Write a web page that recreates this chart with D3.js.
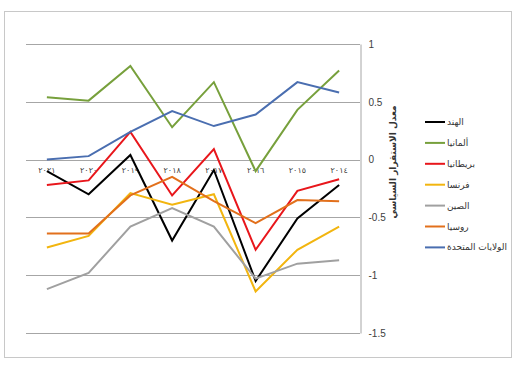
<!DOCTYPE html>
<html><head><meta charset="utf-8">
<script src="https://cdn.jsdelivr.net/npm/d3@7"></script>
<style>body{margin:0;background:#fff}svg{display:block}</style>
</head><body>
<script>
const years = ["٢٠١٤","٢٠١٥","٢٠١٦","٢٠١٧","٢٠١٨","٢٠١٩","٢٠٢٠","٢٠٢١"];
const india   = [-0.22,-0.51,-1.05,-0.09,-0.70,0.04,-0.30,-0.10];
const germany = [0.77,0.43,-0.10,0.67,0.28,0.81,0.51,0.54];
const britain = [-0.17,-0.27,-0.78,0.09,-0.31,0.24,-0.18,-0.22];
const france  = [-0.58,-0.78,-1.14,-0.30,-0.39,-0.29,-0.66,-0.76];
const china   = [-0.87,-0.90,-1.03,-0.58,-0.42,-0.58,-0.98,-1.12];
const russia  = [-0.36,-0.35,-0.55,-0.36,-0.15,-0.31,-0.64,-0.64];
const usa     = [0.58,0.67,0.39,0.29,0.42,0.24,0.03,0.00];
const seriesNames = ["الهند","ألمانيا","بريطانيا","فرنسا","الصين","روسيا","الولايات المتحدة"];
const seriesColors = ["#000000","#77a03c","#e8161b","#f2b50f","#a0a0a0","#e2701c","#4a6eb0"];
const yTicks = [1,0.5,0,-0.5,-1,-1.5];
const yTitle = "معدل الاستقرار السياسي";

const seriesValues = [india,germany,britain,france,china,russia,usa];

const W=532,H=369;
const svg=d3.select("body").append("svg").attr("width",W).attr("height",H);
svg.append("rect").attr("x",4.5).attr("y",11.5).attr("width",507).attr("height",346)
  .attr("fill","#fff").attr("stroke","#c8c8c8");

const pL=26,pR=360,pT=44,pB=333;
const x=d3.scaleBand().domain(years.slice().reverse()).range([pL,pR]);
const y=d3.scaleLinear().domain([-1.5,1]).range([pB,pT]);

// gridlines
svg.append("g").selectAll("line").data(yTicks).join("line")
  .attr("x1",pL).attr("x2",pR)
  .attr("y1",d=>Math.round(y(d))+0.5).attr("y2",d=>Math.round(y(d))+0.5)
  .attr("stroke","#a6a6a6").attr("stroke-width",1.2);

// right axis
const ax=svg.append("g").attr("transform",`translate(${pR+0.5},0)`)
  .call(d3.axisRight(y).tickValues(yTicks).tickSize(0).tickPadding(8).tickFormat(d=>String(d)));
ax.select(".domain").attr("stroke","#a6a6a6");
ax.selectAll("text").attr("font-family","Liberation Sans, Arial, sans-serif").attr("font-size",10).attr("fill","#404040");

// category axis labels
const cx=svg.append("g").attr("transform",`translate(0,${y(0)})`)
  .call(d3.axisBottom(x).tickSize(0).tickPadding(8));
cx.select(".domain").remove();
cx.selectAll("text").attr("font-family","DejaVu Sans, sans-serif").attr("font-size",8).attr("fill","#404040");

// lines
const line=d3.line().x((d,i)=>x(years[i])+x.bandwidth()/2).y(d=>y(d));
seriesValues.forEach((vals,k)=>{
  svg.append("path").datum(vals).attr("d",line).attr("fill","none")
    .attr("stroke",seriesColors[k]).attr("stroke-width",2).attr("stroke-linejoin","miter");
});

// y title
svg.append("text").attr("transform",`translate(396,162) rotate(-90)`)
  .attr("text-anchor","middle").attr("font-family","DejaVu Sans, sans-serif")
  .attr("font-size",9).attr("font-weight","bold").attr("fill","#333").text(yTitle);

// legend
const lg=svg.append("g");
seriesNames.forEach((n,k)=>{
  const yy=122+k*20.9;
  lg.append("line").attr("x1",425).attr("x2",445).attr("y1",yy).attr("y2",yy)
    .attr("stroke",seriesColors[k]).attr("stroke-width",2);
  lg.append("text").attr("x",447).attr("y",yy+3).attr("text-anchor","start")
    .attr("direction","ltr")
    .attr("font-family","DejaVu Sans, sans-serif").attr("font-size",9).attr("fill","#333").text(n);
});
</script>
</body></html>
